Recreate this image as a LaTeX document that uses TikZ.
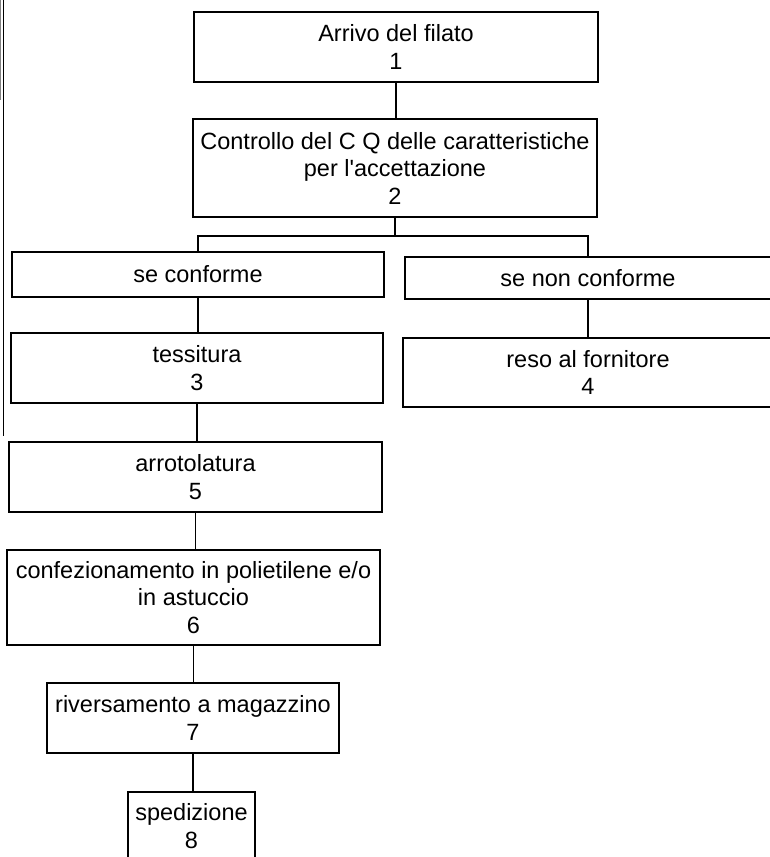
\documentclass[tikz,border=0pt]{standalone}
\usepackage{fontspec}
\setmainfont{Liberation Sans}[Ligatures=TeXOff]
\begin{document}
\begin{tikzpicture}[x=1pt,y=-1pt,
  box/.style={draw, line width=1.7pt, inner sep=0pt, align=center,
    font=\fontsize{23.5}{27.5}\selectfont},
  link/.style={line width=1.7pt}]
\useasboundingbox (0,0) rectangle (770,857);
\begin{scope}
\clip (0,0) rectangle (770,857);
% scan border on the left
\draw[line width=1.8pt] (3.5,0) -- (3.5,436);
\draw[line width=0.8pt, gray] (0.6,0) -- (0.6,100);
% boxes
\node[box, minimum width=404pt, minimum height=70pt] (b1) at (396,47) {Arrivo del filato\\1};
\node[box, minimum width=404pt, minimum height=98pt] (b2) at (395,168) {Controllo del C Q delle caratteristiche\\per l'accettazione\\2};
\node[box, minimum width=372pt, minimum height=45pt] (b3) at (198,274.5) {se conforme};
\node[box, minimum width=366pt, minimum height=42pt] (b4) at (588,278) {se non conforme};
\node[box, minimum width=372pt, minimum height=70pt] (b5) at (197,368) {tessitura\\3};
\node[box, minimum width=370pt, minimum height=69pt] (b6) at (588,372.5) {reso al fornitore\\4};
\node[box, minimum width=373pt, minimum height=70pt] (b7) at (195.5,477) {arrotolatura\\5};
\node[box, minimum width=373pt, minimum height=95pt] (b8) at (193.5,597.5) {confezionamento in polietilene e/o\\in astuccio\\6};
\node[box, minimum width=292pt, minimum height=70pt] (b9) at (193,718) {riversamento a magazzino\\7};
\node[box, minimum width=127pt, minimum height=68pt] (b10) at (191.5,826) {spedizione\\8};
% connectors
\coordinate (split) at (395,236);
\draw[link] (b1.south) -- (b1.south |- b2.north);
\draw[link] (b2.south) -- (split);
\draw[link] (b3.north) |- (split) -| (b4.north);
\draw[link] (b3.south) -- (b3.south |- b5.north);
\draw[link] (b4.south) -- (b4.south |- b6.north);
\draw[link] (b5.south) -- (b5.south |- b7.north);
\draw[link] (b7.south) -- (b7.south |- b8.north);
\draw[link] (b8.south) -- (b8.south |- b9.north);
\draw[link] (b9.south) -- (b9.south |- b10.north);
\end{scope}
\end{tikzpicture}
\end{document}
